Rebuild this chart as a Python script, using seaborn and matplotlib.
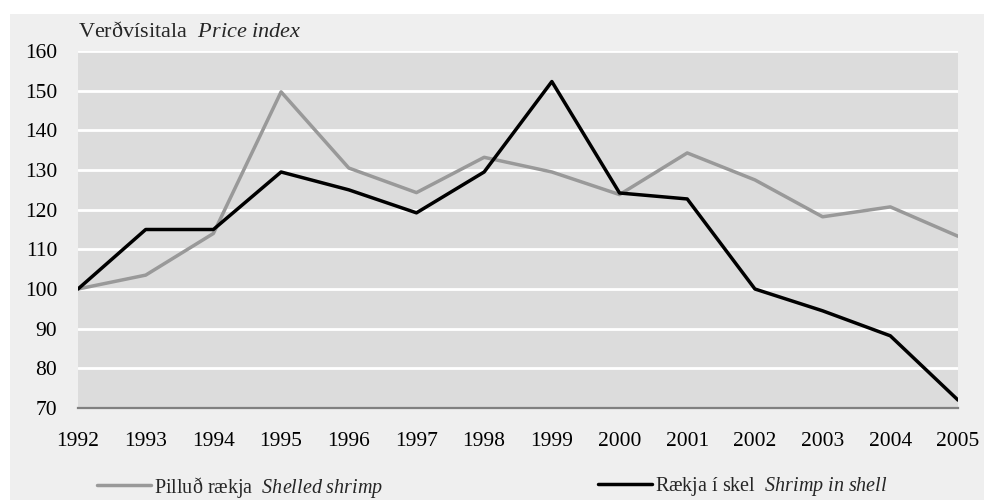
import numpy as np
import pandas as pd
import matplotlib
matplotlib.use('Agg')
import matplotlib.pyplot as plt
import seaborn as sn
from matplotlib.patches import Rectangle

years = list(range(1992, 2006))
shelled = [100, 103.5, 114, 149.7, 130.5, 124.3, 133.2, 129.5, 123.8, 134.3, 127.5, 118.2, 120.7, 113.3]
in_shell = [100, 115, 115, 129.5, 125, 119.2, 129.5, 152.3, 124.2, 122.7, 100, 94.5, 88.2, 72]
labels = [r'Pilluð rækja  $\it{Shelled\ shrimp}$', r'Rækja í skel  $\it{Shrimp\ in\ shell}$']
colors = ['#999999', '#000000']
yticks = [70, 80, 90, 100, 110, 120, 130, 140, 150, 160]

df = pd.DataFrame({'year': years * 2,
                   'value': shelled + in_shell,
                   'series': [labels[0]] * len(years) + [labels[1]] * len(years)})

sn.set_style('darkgrid', {'axes.facecolor': '#dcdcdc', 'grid.color': 'white',
                          'figure.facecolor': 'white'})
plt.rcParams['font.family'] = ['Liberation Serif', 'DejaVu Serif']
plt.rcParams['mathtext.fontset'] = 'custom'
plt.rcParams['mathtext.rm'] = 'Liberation Serif'
plt.rcParams['mathtext.it'] = 'Liberation Serif:italic'

fig = plt.figure(figsize=(9.84, 5), dpi=100)
fig.patches.append(Rectangle((10 / 984, 0), 1, 486 / 500, transform=fig.transFigure,
                             facecolor='#efefef', edgecolor='none', zorder=-10))
ax = fig.add_axes([78 / 984, 92 / 500, 880 / 984, 357 / 500])

sn.lineplot(data=df, x='year', y='value', hue='series', palette=colors,
            linewidth=2.5, legend=False, ax=ax)

ax.set_xlim(1992, 2005)
ax.set_ylim(70, 160)
ax.set_xticks(years)
ax.set_yticks(yticks)
ax.grid(axis='x', visible=False)
ax.grid(axis='y', color='white', linewidth=2)
for s in ['top', 'right', 'left']:
    ax.spines[s].set_visible(False)
ax.spines['bottom'].set_visible(True)
ax.spines['bottom'].set_color('#808080')
ax.spines['bottom'].set_linewidth(1.6)
ax.tick_params(axis='both', labelsize=15.5, length=0, colors='black')
ax.tick_params(axis='x', pad=17)
ax.tick_params(axis='y', pad=15)
ax.set_xlabel('')
ax.set_ylabel('')

fig.text(78 / 984, 468 / 500, r'Verðvísitala  $\it{Price\ index}$', fontsize=16,
         ha='left', va='center')

lines = ax.get_lines()
leg1 = fig.legend([lines[0]], [labels[0]], loc='center left', bbox_to_anchor=(97 / 984, 13 / 500),
                  frameon=False, fontsize=14.5, handlelength=2.7, handletextpad=0.15,
                  borderpad=0, borderaxespad=0)
leg2 = fig.legend([lines[1]], [labels[1]], loc='center left', bbox_to_anchor=(598 / 984, 13 / 500),
                  frameon=False, fontsize=14.5, handlelength=2.7, handletextpad=0.15,
                  borderpad=0, borderaxespad=0)

plt.savefig('out.png', dpi=100)
